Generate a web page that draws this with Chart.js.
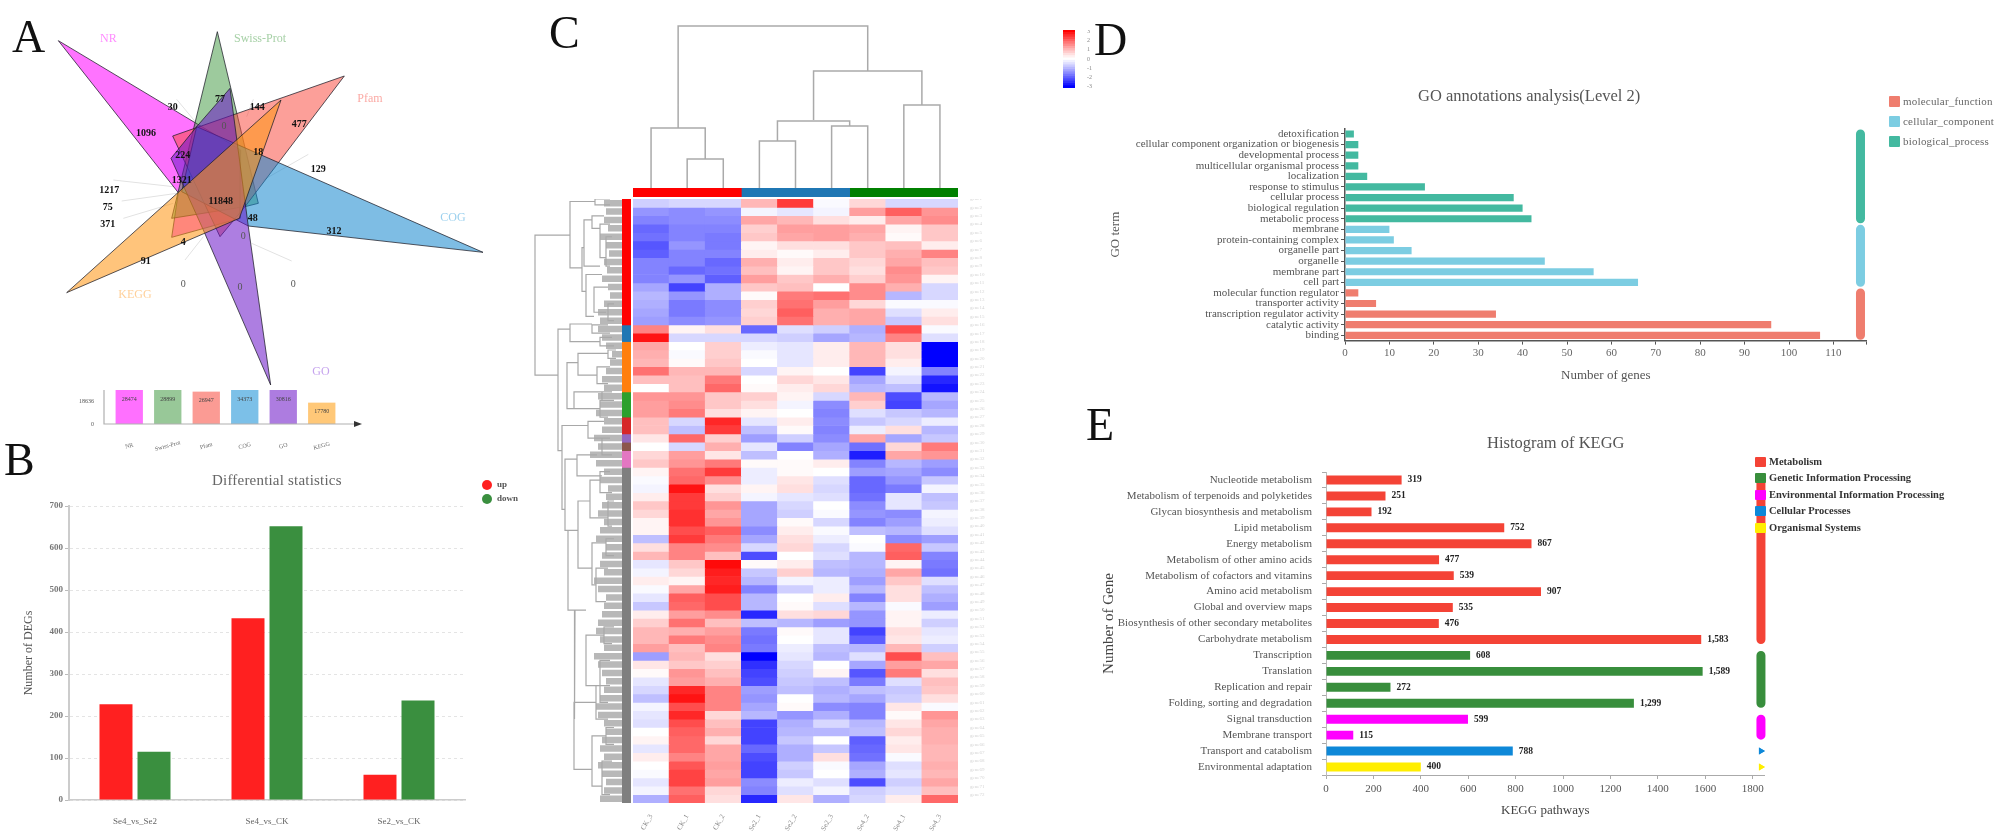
<!DOCTYPE html>
<html>
<head>
<meta charset="utf-8">
<title>Transcriptome figure</title>
<script src="https://cdn.jsdelivr.net/npm/chart.js@4/dist/chart.umd.min.js"></script>
<style>
  html, body { margin: 0; padding: 0; background: #fff; }
  #page { position: relative; width: 2007px; height: 832px; overflow: hidden; filter: blur(0.7px); font-family: "Liberation Serif", serif; }
  #page canvas { position: absolute; }
  .txt { position: absolute; white-space: nowrap; line-height: 1; z-index: 5; }
  .swatch { position: absolute; z-index: 5; }
</style>
</head>
<body>
<div id="page"></div>
<script>
// panel A: venn petals, vertices in the units of the venn axes
const nrX = [175, 722, 720, 515, 535];
const nrY = [122, 450, 655, 712, 578];
const swissX = [652, 775, 735, 515];
const swissY = [95, 610, 620, 655];
const pfamX = [1033, 518, 660, 735];
const pfamY = [228, 408, 710, 620];
const cogX = [1449, 590, 545, 745];
const cogY = [757, 380, 575, 678];
const goX = [812, 745, 690, 590, 513, 610];
const goY = [1155, 680, 265, 380, 475, 690];
const keggX = [200, 843, 718];
const keggY = [878, 300, 655];
const leaderX = [340, 520, null, 365, 530, null, 370, 520, null, 530, 590, null, 760, 740, null, 925, 790, null, 875, 755, null, 555, 610];
const leaderY = [540, 560, null, 603, 580, null, 655, 610, null, 298, 370, null, 298, 350, null, 463, 540, null, 783, 730, null, 780, 710];
const vennCounts = ['30', '77', '144', '477', '1096', '0', '224', '18', '129', '1321', '1217', '75', '371', '11848', '48', '312', '0', '4', '91', '0', '0', '0'];
const vennCountX = [518, 660, 772, 898, 438, 672, 548, 775, 955, 545, 328, 323, 323, 662, 758, 1002, 730, 550, 437, 550, 720, 880];
const vennCountY = [323, 297, 322, 373, 400, 378, 467, 458, 507, 540, 570, 622, 673, 603, 655, 693, 708, 727, 783, 853, 863, 853];
const vennNames = ['NR', 'Swiss-Prot', 'Pfam', 'COG', 'GO', 'KEGG'];
const vennNameX = [325, 780, 1110, 1359, 963, 405];
const vennNameY = [118, 118, 297, 654, 1116, 885];
const vennNameColors = ['#ff8cff', '#a6d0a6', '#fbaaa5', '#9bd0ee', '#c6a4ee', '#ffd09a'];

// panel A: small bar chart under the venn
const miniSets = ['NR', 'Swiss-Prot', 'Pfam', 'COG', 'GO', 'KEGG'];
const miniCounts = [28474, 28899, 26947, 34373, 30816, 17780];
const miniColors = ['#ff70ff', '#98c898', '#fb9b94', '#7cc0e8', '#ad7ce0', '#ffc878'];

// panel B
const degPairs = ['Se4_vs_Se2', 'Se4_vs_CK', 'Se2_vs_CK'];
const degUp = [228, 433, 60];
const degDown = [115, 652, 237];

// panel C: heatmap, one list per row (z score), columns as in heatCols
const heatCols = ['CK_3', 'CK_1', 'CK_2', 'Se2_1', 'Se2_2', 'Se2_3', 'Se4_2', 'Se4_1', 'Se4_3'];
const heatRows = [
  [-0.7, -0.6, -0.6, 1.0, 2.4, -0.1, 0.6, -0.6, -0.6],
  [-1.4, -1.5, -1.4, -0.2, -0.4, -0.2, 1.3, 2.0, 1.4],
  [-1.6, -1.5, -1.5, 1.2, 1.0, 0.5, 0.3, 1.2, 1.5],
  [-1.9, -1.6, -1.6, 0.7, 1.3, 1.3, 1.2, 0.2, 0.8],
  [-1.8, -1.6, -1.7, 0.8, 1.2, 1.3, 1.1, 0.1, 0.8],
  [-2.1, -1.4, -1.7, 0.2, 0.5, 0.5, 0.8, 0.9, 0.3],
  [-2.0, -1.6, -1.6, 0.3, 0.1, 0.3, 0.8, 1.1, 1.6],
  [-1.6, -1.6, -1.9, 1.1, 0.3, 0.8, 0.6, 1.2, 0.9],
  [-1.6, -1.9, -1.8, 0.9, 0.2, 0.8, 0.5, 1.5, 0.8],
  [-1.6, -1.4, -2.0, 1.3, 0.8, 1.1, 0.7, 1.4, 0.2],
  [-1.2, -2.3, -1.1, 0.8, 0.9, 0.0, 1.5, 1.1, -0.6],
  [-1.0, -1.4, -1.1, 0.1, 1.7, 1.8, 1.5, -1.0, -0.6],
  [-1.1, -1.7, -1.5, 0.7, 1.8, 1.3, 0.6, -0.1, -0.1],
  [-1.2, -1.7, -1.5, 0.6, 2.0, 1.1, 1.2, -0.5, 0.3],
  [-1.3, -1.5, -1.4, 0.7, 1.8, 1.1, 1.2, -0.8, 0.5],
  [1.6, 0.2, 0.5, -1.9, -0.5, -0.7, -1.1, 2.2, -0.1],
  [2.8, -0.6, -0.6, -0.6, -0.7, -1.2, -1.0, 1.6, -0.5],
  [1.2, 0.0, 0.7, -0.3, -0.4, 0.3, 1.0, 0.5, -3.0],
  [1.1, -0.1, 0.7, -0.1, -0.4, 0.3, 1.0, 0.5, -3.0],
  [1.0, 0.1, 0.8, 0.0, -0.4, 0.3, 1.0, 0.3, -3.0],
  [1.8, 1.0, 1.0, -0.6, 0.2, 0.0, -2.3, -0.2, -1.6],
  [0.9, 0.9, 1.7, 0.0, 0.6, 0.4, -1.2, -0.5, -2.6],
  [0.0, 0.9, 1.9, 0.1, 0.3, 0.6, -1.0, -0.9, -2.8],
  [1.4, 1.4, 0.8, 0.7, 0.2, -0.6, 1.0, -2.2, -1.0],
  [1.3, 1.5, 0.8, 0.5, -0.2, -1.5, 0.7, -2.3, -1.2],
  [1.3, 1.7, 0.5, 0.2, 0.0, -1.6, -0.5, -0.8, -1.0],
  [0.9, -0.6, 2.6, -0.4, 0.3, -1.5, -0.8, -0.6, -0.3],
  [0.9, -0.9, 2.4, -0.9, 0.1, -1.6, -0.3, 0.5, -1.0],
  [0.4, 1.9, 0.7, -1.3, -0.7, -1.5, 1.2, -1.2, -0.8],
  [0.0, -0.6, 1.1, -0.4, -1.6, -1.2, -1.8, 0.6, 1.7],
  [0.6, 1.3, 0.4, -0.9, 0.0, -1.1, -2.7, 1.2, 1.4],
  [0.8, 1.4, 1.7, 0.1, 0.1, 0.3, -1.6, -1.0, -1.3],
  [0.2, 1.8, 2.4, -0.3, 0.1, 0.0, -1.3, -1.2, -1.5],
  [-0.1, 1.9, 1.5, -0.3, 0.4, -0.5, -1.9, -1.4, -0.8],
  [-0.2, 2.8, 0.5, 0.2, 0.5, -0.6, -1.9, -1.7, -0.2],
  [0.3, 2.4, 0.7, -0.2, -0.4, -0.5, -1.8, -0.4, -0.9],
  [0.8, 2.4, 1.4, -1.2, -0.6, 0.0, -1.5, -0.4, -0.8],
  [0.6, 2.5, 1.2, -1.2, -0.7, -0.1, -1.4, -1.5, -0.2],
  [0.2, 2.5, 1.4, -1.2, 0.1, -0.6, -1.6, -1.3, -0.3],
  [0.2, 2.2, 2.0, -1.5, 0.3, -0.1, -0.9, -1.0, -0.5],
  [-0.9, 2.4, 1.7, -1.2, 0.5, -0.3, 0.0, -1.5, -1.3],
  [0.5, 1.6, 1.5, -0.6, 0.6, -0.6, -0.1, 1.9, -0.8],
  [1.0, 1.6, 0.9, -2.2, 0.0, -0.5, -1.0, 2.0, -1.6],
  [-0.4, 0.8, 2.9, 0.1, 0.3, -0.9, -1.0, 0.2, -1.7],
  [-0.2, 0.6, 2.7, -0.8, 0.7, -1.0, -1.1, 1.2, -1.8],
  [0.3, 0.2, 2.6, -1.0, -0.2, -0.3, -1.3, 0.8, -0.5],
  [-0.1, 1.2, 2.7, -1.6, -0.7, -0.3, -1.0, 0.5, -0.9],
  [-0.4, 2.0, 2.2, -1.0, 0.0, 0.3, -1.6, 0.5, -1.1],
  [-0.8, 1.9, 2.2, -1.0, 0.1, -0.5, -1.0, -0.1, -1.3],
  [0.3, 1.3, 1.5, -2.6, 0.5, 0.6, -1.4, 0.2, -0.3],
  [0.7, 1.8, 0.9, -0.9, -1.0, -1.3, -1.4, 0.2, -0.7],
  [1.0, 1.1, 1.3, -1.7, 0.1, -0.4, -2.3, 0.5, -0.4],
  [1.0, 1.7, 1.5, -1.8, 0.0, -0.4, -2.0, 0.4, -0.3],
  [1.3, 0.9, 1.6, -1.7, -0.3, -0.9, -1.0, 1.0, -0.7],
  [-1.3, 1.0, 0.5, -3.0, -0.4, -1.0, -0.5, 2.2, 0.9],
  [0.4, 0.8, 0.7, -2.5, -0.6, 0.0, -1.2, 1.3, 1.2],
  [0.1, 1.4, 0.9, -2.3, -0.7, 0.2, -2.1, 1.7, 0.5],
  [-0.4, 1.3, 1.1, -2.2, -0.8, -0.9, -1.7, -0.5, 0.9],
  [-0.6, 2.6, 1.6, -1.3, -0.9, -1.1, -0.9, -0.8, 0.8],
  [-0.9, 2.8, 1.6, -1.4, 0.0, -1.0, -1.2, -0.7, 0.5],
  [-0.2, 2.2, 1.6, -1.2, 0.1, -1.5, -1.6, 0.4, -0.1],
  [-0.4, 2.6, 0.6, -1.0, -1.4, -1.1, -1.6, 0.1, 1.4],
  [-0.5, 2.2, 0.9, -2.3, -1.1, -0.6, -1.0, 0.4, 1.2],
  [0.0, 2.0, 1.1, -2.3, -1.0, -1.0, -0.9, 0.6, 1.1],
  [0.2, 1.9, 0.6, -2.3, -0.8, 0.0, -2.0, 0.3, 1.1],
  [-0.4, 1.9, 1.2, -1.9, -1.1, -0.8, -1.9, 0.4, 1.0],
  [0.3, 1.6, 1.2, -2.2, -1.1, 0.5, -1.8, -0.1, 1.0],
  [0.0, 2.1, 1.3, -2.3, -0.7, -0.1, -1.2, -0.5, 1.1],
  [-0.1, 2.3, 1.2, -2.3, -0.8, 0.0, -1.1, -0.4, 1.0],
  [-0.4, 2.3, 1.3, -1.5, -0.3, -0.5, -2.2, -0.7, 1.2],
  [-0.2, 1.8, 0.6, -1.6, -0.5, -0.2, -0.7, -0.5, 0.9],
  [-1.1, 2.0, 0.5, -2.6, 0.4, -1.1, -0.6, 0.3, 1.9]
];
const heatGroupSizes = [15, 2, 6, 3, 2, 1, 1, 2, 40];
const heatGroupColors = ['#ff0000', '#1f77b4', '#ff7f0e', '#2ca02c', '#d62728', '#9467bd', '#8c564b', '#e377c2', '#7f7f7f'];
const colGroupSizes = [3, 3, 3];
const colGroupColors = ['#ff0000', '#1f77b4', '#008000'];
const keyLevels = ['3', '2.75', '2.5', '2.25', '2', '1.75', '1.5', '1.25', '1', '0.75', '0.5', '0.25', '0', '-0.25', '-0.5', '-0.75', '-1', '-1.25', '-1.5', '-1.75', '-2', '-2.25', '-2.5', '-2.75', '-3'];
// column tree: x is column position, y is merge height, null breaks the line
const colTreeX = [0.5, 0.5, 2, 2, null, 1.5, 1.5, 2.5, 2.5, null, 1.25, 1.25, 6.5, 6.5, null, 5, 5, 8, 8, null, 7.5, 7.5, 8.5, 8.5, null, 4, 4, 6, 6, null, 3.5, 3.5, 4.5, 4.5, null, 5.5, 5.5, 6.5, 6.5];
const colTreeY = [0, 60, 60, 29, null, 0, 29, 29, 0, null, 60, 162, 162, 117, null, 68, 117, 117, 83, null, 0, 83, 83, 0, null, 47, 67, 67, 62, null, 0, 47, 47, 0, null, 0, 62, 62, 0];
// row tree: [merge height, top row, bottom row, top child height, bottom child height]
const rowClades = [
  [87, 4.3, 21, 52, 64], [52, 0.3, 8.2, 27, 40], [27, 0, 0.7, 12, 12], [40, 5.8, 11, 38, 36], [38, 2.5, 8, 30, 22],
  [30, 2, 3.5, 18, 22], [22, 3, 7, 12, 16], [16, 4.5, 8, 10, 12], [36, 9, 14, 20, 28], [28, 10.5, 13.5, 14, 16], [14, 12.5, 14.5, 8, 8],
  [64, 15.5, 30, 52, 60], [52, 14.9, 17, 30, 22], [30, 15, 16, 14, 12], [22, 16.5, 17.5, 10, 8], [55, 19.5, 25, 44, 48],
  [44, 18.4, 21, 14, 25], [25, 20, 22, 12, 14], [14, 18, 19, 6, 6], [48, 23, 25, 20, 22], [22, 24, 26, 10, 14], [20, 23, 24, 10, 8],
  [60, 27, 37, 34, 57], [34, 26.5, 28.5, 18, 20], [20, 28.5, 30.5, 12, 10], [45, 30.5, 33, 25, 20], [57, 31, 39.5, 45, 54],
  [54, 39.5, 49, 44, 47], [44, 36, 44, 32, 30], [32, 33.5, 38, 22, 14], [22, 32.5, 35, 12, 10], [14, 36, 39, 8, 10], [30, 41, 46, 16, 26],
  [16, 40.5, 42.5, 8, 8], [26, 44, 48, 14, 16], [47, 49, 62, 36, 48], [36, 52, 58, 18, 22], [18, 51, 53, 8, 10], [22, 55, 60, 12, 14],
  [48, 60, 68, 26, 30], [26, 58, 62, 12, 14], [30, 64, 70, 16, 20], [16, 63, 65, 8, 8], [20, 67, 71, 10, 12]
];
const leafHeights = [
  18, 16, 18, 14, 22, 16, 13, 18, 15, 20, 14, 12, 18, 24, 22,
  24, 20, 16, 10, 12, 16, 20, 18, 24, 22, 26, 18, 20, 28, 24, 32, 26,
  18, 22, 14, 16, 20, 24, 18, 22, 26, 16, 20, 22, 18, 28, 24, 16, 18, 20,
  24, 26, 22, 18, 28, 24, 20, 16, 18, 22, 26, 24, 18, 16, 20, 22, 18, 24, 20, 16, 18, 22
];

// panel D
const goTerms = ['detoxification', 'cellular component organization or biogenesis', 'developmental process', 'multicellular organismal process', 'localization', 'response to stimulus', 'cellular process', 'biological regulation', 'metabolic process', 'membrane', 'protein-containing complex', 'organelle part', 'organelle', 'membrane part', 'cell part', 'molecular function regulator', 'transporter activity', 'transcription regulator activity', 'catalytic activity', 'binding'];
const goCounts = [2, 3, 3, 3, 5, 18, 38, 40, 42, 10, 11, 15, 45, 56, 66, 3, 7, 34, 96, 107];
const goGroups = ['biological_process', 'biological_process', 'biological_process', 'biological_process', 'biological_process', 'biological_process', 'biological_process', 'biological_process', 'biological_process', 'cellular_component', 'cellular_component', 'cellular_component', 'cellular_component', 'cellular_component', 'cellular_component', 'molecular_function', 'molecular_function', 'molecular_function', 'molecular_function', 'molecular_function'];
const goGroupNames = ['molecular_function', 'cellular_component', 'biological_process'];
const goGroupColors = ['#ef7d6e', '#7ccde2', '#43b9a0'];
const goTicks = [0, 10, 20, 30, 40, 50, 60, 70, 80, 90, 100, 110, 117.5];

// panel E
const keggTerms = ['Nucleotide metabolism', 'Metabolism of terpenoids and polyketides', 'Glycan biosynthesis and metabolism', 'Lipid metabolism', 'Energy metabolism', 'Metabolism of other amino acids', 'Metabolism of cofactors and vitamins', 'Amino acid metabolism', 'Global and overview maps', 'Biosynthesis of other secondary metabolites', 'Carbohydrate metabolism', 'Transcription', 'Translation', 'Replication and repair', 'Folding, sorting and degradation', 'Signal transduction', 'Membrane transport', 'Transport and catabolism', 'Environmental adaptation'];
const keggCounts = [319, 251, 192, 752, 867, 477, 539, 907, 535, 476, 1583, 608, 1589, 272, 1299, 599, 115, 788, 400];
const keggGroups = ['Metabolism', 'Metabolism', 'Metabolism', 'Metabolism', 'Metabolism', 'Metabolism', 'Metabolism', 'Metabolism', 'Metabolism', 'Metabolism', 'Metabolism', 'Genetic Information Processing', 'Genetic Information Processing', 'Genetic Information Processing', 'Genetic Information Processing', 'Environmental Information Processing', 'Environmental Information Processing', 'Cellular Processes', 'Organismal Systems'];
const keggGroupNames = ['Metabolism', 'Genetic Information Processing', 'Environmental Information Processing', 'Cellular Processes', 'Organismal Systems'];
const keggGroupColors = ['#f44336', '#388e3c', '#ff00ff', '#0e88d8', '#ffee00'];
const keggTicks = [0, 200, 400, 600, 800, 1000, 1200, 1400, 1600, 1800];

const serif = '"Liberation Serif", serif';
Chart.defaults.font.family = serif;
Chart.defaults.animation = false;
Chart.defaults.responsive = false;
Chart.defaults.plugins.legend.display = false;
Chart.defaults.plugins.tooltip.enabled = false;

const page = document.getElementById('page');

function canvasAt(left, top, width, height) {
  const c = document.createElement('canvas');
  c.width = width;
  c.height = height;
  c.style.left = left + 'px';
  c.style.top = top + 'px';
  page.appendChild(c);
  return c;
}

function text(str, left, top, size, color, extra) {
  const d = document.createElement('div');
  d.className = 'txt';
  d.textContent = str;
  d.style.left = left + 'px';
  d.style.top = top + 'px';
  d.style.fontSize = size + 'px';
  d.style.color = color;
  if (extra) Object.assign(d.style, extra);
  page.appendChild(d);
}

function swatch(left, top, w, h, color, radius) {
  const d = document.createElement('div');
  d.className = 'swatch';
  Object.assign(d.style, { left: left + 'px', top: top + 'px', width: w + 'px', height: h + 'px', background: color, borderRadius: radius || '1px' });
  page.appendChild(d);
}

// keeps the plot area where I want it, whatever the labels measure
function pin(size) {
  return function (s) {
    if (s.isHorizontal()) s.height = size; else s.width = size;
    s.paddingLeft = s.paddingRight = s.paddingTop = s.paddingBottom = 0;
  };
}

function xy(xs, ys) {
  return xs.map((x, i) => ({ x: x, y: ys[i] }));
}

function polygon(xs, ys, fill) {
  return {
    data: xy(xs.concat(xs[0]), ys.concat(ys[0])),
    showLine: true, fill: 'shape', backgroundColor: fill,
    borderColor: 'rgba(30,30,40,0.75)', borderWidth: 1, pointRadius: 0, tension: 0
  };
}

function hiddenLinear(min, max, reverse) {
  return { type: 'linear', display: false, min: min, max: max, reverse: !!reverse };
}

// ---- panel A venn (first dataset is painted last)
new Chart(canvasAt(0, 0, 500, 400), {
  type: 'scatter',
  data: {
    datasets: [
      polygon(keggX, keggY, 'rgba(255,150,20,0.56)'),
      polygon(goX, goY, 'rgba(105,20,200,0.55)'),
      polygon(cogX, cogY, 'rgba(20,135,205,0.55)'),
      polygon(pfamX, pfamY, 'rgba(250,70,60,0.52)'),
      polygon(swissX, swissY, 'rgba(50,145,50,0.48)'),
      polygon(nrX, nrY, 'rgba(255,0,255,0.55)'),
      { data: xy(leaderX, leaderY), showLine: true, borderColor: '#e2e2e2', borderWidth: 1, pointRadius: 0 }
    ]
  },
  options: {
    layout: { autoPadding: false },
    scales: { x: hiddenLinear(0, 1500), y: hiddenLinear(0, 1200, true) }
  },
  plugins: [{
    id: 'vennText',
    afterDatasetsDraw(chart) {
      const ctx = chart.ctx, sx = chart.scales.x, sy = chart.scales.y;
      ctx.save();
      ctx.textAlign = 'center';
      ctx.textBaseline = 'middle';
      vennCounts.forEach((t, i) => {
        ctx.font = (t === '0' ? '' : 'bold ') + '10px ' + serif;
        ctx.fillStyle = t === '0' ? '#555' : '#111';
        ctx.fillText(t, sx.getPixelForValue(vennCountX[i]), sy.getPixelForValue(vennCountY[i]));
      });
      ctx.font = '12px ' + serif;
      vennNames.forEach((t, i) => {
        ctx.fillStyle = vennNameColors[i];
        ctx.fillText(t, sx.getPixelForValue(vennNameX[i]), sy.getPixelForValue(vennNameY[i]));
      });
      ctx.restore();
    }
  }]
});

// ---- panel A small bars
new Chart(canvasAt(60, 385, 310, 75), {
  type: 'bar',
  data: { labels: miniSets, datasets: [{ data: miniCounts, backgroundColor: miniColors, barPercentage: 0.71, categoryPercentage: 1 }] },
  options: {
    layout: { autoPadding: false, padding: { top: 5, right: 29 } },
    scales: {
      x: { display: true, grid: { display: false }, border: { display: false }, ticks: { display: false }, afterFit: pin(36) },
      y: {
        min: 0, max: 28300, grid: { display: false }, border: { display: false },
        afterBuildTicks(s) { s.ticks = [{ value: 0 }, { value: 18636 }]; },
        ticks: { font: { size: 6 }, color: '#555', padding: 8, callback: v => v }, afterFit: pin(50)
      }
    }
  },
  plugins: [{
    id: 'miniExtras',
    afterDatasetsDraw(chart) {
      const ctx = chart.ctx, sx = chart.scales.x, sy = chart.scales.y;
      const base = sy.getPixelForValue(0), left = sx.left - 6, end = sx.right + 13;
      ctx.save();
      ctx.strokeStyle = '#b0b0b0';
      ctx.lineWidth = 1.2;
      ctx.beginPath();
      ctx.moveTo(left, sy.top);
      ctx.lineTo(left, base);
      ctx.lineTo(end, base);
      ctx.stroke();
      ctx.fillStyle = '#333';
      ctx.beginPath();
      ctx.moveTo(end, base - 3);
      ctx.lineTo(end + 8, base);
      ctx.lineTo(end, base + 3);
      ctx.fill();
      ctx.textAlign = 'center';
      ctx.textBaseline = 'middle';
      ctx.font = '6px ' + serif;
      chart.getDatasetMeta(0).data.forEach((bar, i) => {
        const top = Math.max(bar.y, sy.top);
        ctx.fillStyle = '#444';
        ctx.fillText(miniCounts[i], bar.x, top + 9);
        ctx.save();
        ctx.translate(bar.x, base + 22);
        ctx.rotate(-15 * Math.PI / 180);
        ctx.fillStyle = '#666';
        ctx.fillText(miniSets[i], 0, 0);
        ctx.restore();
      });
      ctx.restore();
    }
  }]
});

// ---- panel B
text('Differential statistics', 212, 473, 15, '#666', { letterSpacing: '0.2px' });
swatch(482, 480, 10, 10, '#ff2020', '50%');
swatch(482, 494, 10, 10, '#3a8f3f', '50%');
text('up', 497, 480, 9, '#555', { fontWeight: 'bold' });
text('down', 497, 494, 9, '#555', { fontWeight: 'bold' });
new Chart(canvasAt(22, 490, 448, 342), {
  type: 'bar',
  data: {
    labels: degPairs,
    datasets: [
      { label: 'up', data: degUp, backgroundColor: '#ff2020', barPercentage: 0.868, categoryPercentage: 0.576 },
      { label: 'down', data: degDown, backgroundColor: '#3a8f3f', barPercentage: 0.868, categoryPercentage: 0.576 }
    ]
  },
  options: {
    layout: { autoPadding: false, padding: { top: 16, right: 5 } },
    scales: {
      x: {
        grid: { display: false }, border: { color: '#ccc', width: 1.5 },
        ticks: { font: { size: 9 }, color: '#666', padding: 8 }, afterFit: pin(32)
      },
      y: {
        min: 0, max: 700,
        grid: { color: '#e4e4e4', tickColor: '#bbb', tickLength: 4 },
        border: { color: '#ccc', width: 2, dash: [3, 3] },
        ticks: { stepSize: 100, font: { size: 9, weight: 'bold' }, color: '#777', padding: 2 },
        title: { display: true, text: 'Number of DEGs', font: { size: 12 }, color: '#555', padding: 0 },
        afterFit: pin(47)
      }
    }
  }
});

// ---- panel C heatmap
function heatColor(v) {
  const k = Math.round(255 * (1 - Math.pow(Math.min(Math.abs(v), 3) / 3, 1.15)));
  return v >= 0 ? 'rgb(255,' + k + ',' + k + ')' : 'rgb(' + k + ',' + k + ',255)';
}
const heatGenes = heatRows.map((r, i) => 'gene' + (i + 1));

new Chart(canvasAt(633, 199, 355, 634), {
  type: 'bar',
  data: {
    labels: heatCols,
    datasets: heatRows.map(row => ({
      data: row.map(() => 1),
      backgroundColor: row.map(heatColor),
      barPercentage: 1, categoryPercentage: 1
    }))
  },
  options: {
    layout: { autoPadding: false },
    scales: {
      x: {
        stacked: true, grid: { display: false }, border: { display: false },
        ticks: { font: { size: 7 }, color: '#888', minRotation: 60, maxRotation: 60, padding: 2 },
        afterFit: pin(30)
      },
      y: {
        stacked: true, position: 'right', reverse: true, min: 0, max: heatRows.length,
        grid: { display: false }, border: { display: false },
        ticks: { stepSize: 1, autoSkip: false, font: { size: 5 }, color: '#d4d4d4', padding: 4, callback: v => heatGenes[v] || '' },
        afterFit: pin(30)
      }
    }
  }
});

// row and column colour bars
new Chart(canvasAt(622, 199, 9, 604), {
  type: 'bar',
  data: {
    labels: ['rows'],
    datasets: heatGroupSizes.map((n, i) => ({ data: [n], backgroundColor: heatGroupColors[i], barPercentage: 1, categoryPercentage: 1 }))
  },
  options: {
    layout: { autoPadding: false },
    scales: { x: { stacked: true, display: false }, y: { stacked: true, display: false, reverse: true, min: 0, max: heatRows.length } }
  }
});
new Chart(canvasAt(633, 188, 325, 9), {
  type: 'bar',
  data: {
    labels: ['columns'],
    datasets: colGroupSizes.map((n, i) => ({ data: [n], backgroundColor: colGroupColors[i], barPercentage: 1, categoryPercentage: 1 }))
  },
  options: {
    indexAxis: 'y',
    layout: { autoPadding: false },
    scales: { x: { stacked: true, display: false, min: 0, max: heatCols.length }, y: { stacked: true, display: false } }
  }
});

// dendrograms
new Chart(canvasAt(633, 20, 325, 168), {
  type: 'scatter',
  data: { datasets: [{ data: xy(colTreeX, colTreeY), showLine: true, borderColor: '#aaa', borderWidth: 1.5, pointRadius: 0 }] },
  options: { layout: { autoPadding: false }, scales: { x: hiddenLinear(0, heatCols.length), y: hiddenLinear(0, 168) } }
});
const rowTree = rowClades.flatMap(c => [{ x: c[3], y: c[1] }, { x: c[0], y: c[1] }, { x: c[0], y: c[2] }, { x: c[4], y: c[2] }, { x: null, y: null }]);
const rowLeaves = leafHeights.flatMap((h, i) => [{ x: 0, y: i + 0.5 }, { x: h, y: i + 0.5 }, { x: null, y: null }]);
new Chart(canvasAt(530, 199, 92, 604), {
  type: 'scatter',
  data: {
    datasets: [
      { data: rowTree, showLine: true, borderColor: '#a8a8a8', borderWidth: 1.2, pointRadius: 0 },
      { data: rowLeaves, showLine: true, borderColor: '#b8b8b8', borderWidth: 6.5, pointRadius: 0 }
    ]
  },
  options: { layout: { autoPadding: false }, scales: { x: hiddenLinear(0, 92, true), y: hiddenLinear(0, heatRows.length, true) } }
});

// colour key
new Chart(canvasAt(1063, 30, 30, 58), {
  type: 'bar',
  data: {
    labels: keyLevels,
    datasets: [{ data: keyLevels.map(() => 1), backgroundColor: keyLevels.map(v => heatColor(Number(v))), barPercentage: 1, categoryPercentage: 1 }]
  },
  options: {
    indexAxis: 'y',
    layout: { autoPadding: false },
    scales: {
      x: { display: false, min: 0, max: 1 },
      y: {
        position: 'right', grid: { display: false }, border: { display: false },
        ticks: {
          autoSkip: false, font: { size: 6 }, color: '#888', padding: 4,
          callback(v) { const l = this.getLabelForValue(v); return Number.isInteger(Number(l)) ? l : ''; }
        },
        afterFit: pin(18)
      }
    }
  }
});

// ---- panel D
function groupColor(group, names, colors) {
  return colors[names.indexOf(group)];
}

function bandPoints(terms, groups, group, x) {
  const first = groups.indexOf(group), last = groups.lastIndexOf(group);
  return [{ x: x, y: terms[first] }, { x: x, y: terms[last] }];
}

function fixedTicks(values) {
  return function (s) { s.ticks = values.map(v => ({ value: v })); };
}

text('GO annotations analysis(Level 2)', 1418, 88, 16.5, '#555');
goGroupNames.forEach((n, i) => {
  swatch(1889, 96 + i * 20, 11, 11, goGroupColors[i]);
  text(n, 1903, 96 + i * 20, 11, '#666', { letterSpacing: '0.2px' });
});
new Chart(canvasAt(1108, 120, 762, 263), {
  type: 'bar',
  data: {
    labels: goTerms,
    datasets: [{
      data: goCounts,
      backgroundColor: goGroups.map(g => groupColor(g, goGroupNames, goGroupColors)),
      barPercentage: 0.68, categoryPercentage: 1, order: 2
    }].concat(goGroupNames.map((n, i) => ({
      type: 'line',
      data: bandPoints(goTerms, goGroups, n, 116.1),
      borderColor: goGroupColors[i], borderWidth: 9, borderCapStyle: 'round',
      pointRadius: 0, clip: false, order: 1
    })))
  },
  options: {
    indexAxis: 'y',
    layout: { autoPadding: false, padding: { top: 8.7, right: 3.3 } },
    scales: {
      x: {
        min: 0, max: 117.5,
        afterBuildTicks: fixedTicks(goTicks),
        grid: { drawOnChartArea: false, color: '#555', tickLength: 4 }, border: { color: '#555', width: 1.5 },
        ticks: { autoSkip: false, maxRotation: 0, font: { size: 11 }, color: '#666', padding: 2, callback: v => (v % 10 === 0 ? v : '') },
        title: { display: true, text: 'Number of genes', font: { size: 13 }, color: '#555', padding: 0 },
        afterFit: pin(42.4)
      },
      y: {
        grid: { drawOnChartArea: false, offset: false, color: '#555', tickLength: 4 }, border: { color: '#555', width: 1.5 },
        ticks: { autoSkip: false, font: { size: 11 }, color: '#555', padding: 2 },
        title: { display: true, text: 'GO term', font: { size: 13 }, color: '#555', padding: 0 },
        afterFit: pin(237)
      }
    }
  }
});

// ---- panel E
text('Histogram of KEGG', 1487, 435, 16.5, '#555');
keggGroupNames.forEach((n, i) => {
  swatch(1755, 457 + i * 16.4, 11, 10, keggGroupColors[i]);
  text(n, 1769, 457 + i * 16.4, 10.5, '#333', { fontWeight: 'bold' });
});

function keggBand(name, i) {
  const pts = bandPoints(keggTerms, keggGroups, name, 1835);
  const single = pts[0].y === pts[1].y;
  return {
    type: 'line', data: pts, borderColor: keggGroupColors[i], backgroundColor: keggGroupColors[i],
    borderWidth: single ? 0 : 9, borderCapStyle: 'round',
    pointRadius: single ? 4 : 0, pointStyle: 'triangle', pointRotation: 90, clip: false, order: 1
  };
}

new Chart(canvasAt(1100, 465, 670, 353), {
  type: 'bar',
  data: {
    labels: keggTerms,
    datasets: [{
      data: keggCounts,
      backgroundColor: keggGroups.map(g => groupColor(g, keggGroupNames, keggGroupColors)),
      barPercentage: 0.56, categoryPercentage: 1, order: 2
    }].concat(keggGroupNames.map(keggBand))
  },
  options: {
    indexAxis: 'y',
    layout: { autoPadding: false, padding: { top: 7, right: 5.5 } },
    scales: {
      x: {
        min: 0, max: 1850,
        afterBuildTicks: fixedTicks(keggTicks),
        grid: { drawOnChartArea: false, color: '#aaa', tickLength: 4 }, border: { color: '#aaa' },
        ticks: { autoSkip: false, maxRotation: 0, font: { size: 11 }, color: '#555', padding: 4, callback: v => v },
        title: { display: true, text: 'KEGG pathways', font: { size: 13 }, color: '#444', padding: 0 },
        afterFit: pin(43)
      },
      y: {
        grid: { drawOnChartArea: false, offset: true, color: '#aaa', tickLength: 4 }, border: { color: '#bbb' },
        ticks: { autoSkip: false, font: { size: 11 }, color: '#555', padding: 10 },
        title: { display: true, text: 'Number of Gene', font: { size: 15 }, color: '#444', padding: 0 },
        afterFit: pin(226)
      }
    }
  },
  plugins: [{
    id: 'keggValues',
    afterDatasetsDraw(chart) {
      const ctx = chart.ctx;
      ctx.save();
      ctx.font = 'bold 9.5px ' + serif;
      ctx.fillStyle = '#222';
      ctx.textBaseline = 'middle';
      chart.getDatasetMeta(0).data.forEach((bar, i) => {
        ctx.fillText(keggCounts[i].toLocaleString('en-US'), bar.x + 6, bar.y);
      });
      ctx.restore();
    }
  }]
});

// panel letters
text('A', 12, 14, 46, '#111');
text('B', 4, 437, 46, '#111');
text('C', 549, 10, 46, '#111');
text('D', 1094, 17, 46, '#111');
text('E', 1086, 402, 46, '#111');
</script>
</body>
</html>
